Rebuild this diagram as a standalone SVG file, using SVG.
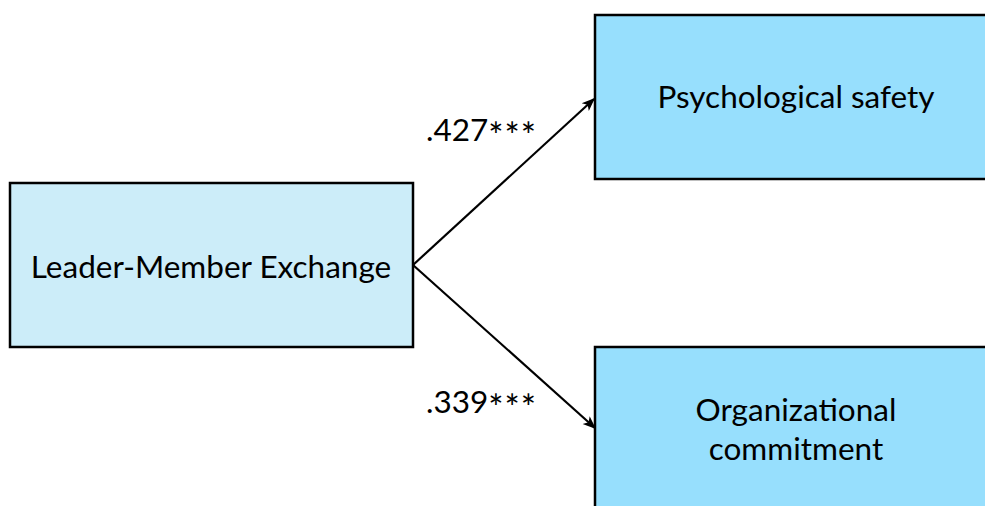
<svg xmlns="http://www.w3.org/2000/svg" width="985" height="506" viewBox="0 0 985 506">
<defs>
<style>
.box{stroke:#000;stroke-width:2.5}
.t{font-family:Lato,"Open Sans","Liberation Sans",sans-serif;font-size:31.5px;fill:#000;text-anchor:middle}
.lbl{font-family:Lato,"Open Sans","Liberation Sans",sans-serif;font-size:31.5px;fill:#000}
.st{font-size:36px;letter-spacing:1px}
.edge{stroke:#000;stroke-width:2.2;fill:none}
</style>
<marker id="ah" viewBox="0 0 10 10" refX="9" refY="5" markerWidth="6" markerHeight="6" orient="auto" markerUnits="strokeWidth">
<path d="M0,1 L10,5 L0,9 L2.5,5 Z" fill="#000"/>
</marker>
</defs>
<rect width="985" height="506" fill="#fff"/>
<g id="connectors">
<line class="edge" x1="413" y1="265" x2="594" y2="99" marker-end="url(#ah)"/>
<line class="edge" x1="413" y1="265" x2="595" y2="428" marker-end="url(#ah)"/>
<text class="lbl" x="426" y="141">.427<tspan class="st" dy="8">***</tspan></text>
<text class="lbl" x="426" y="413">.339<tspan class="st" dy="8">***</tspan></text>
</g>
<g id="lmx">
<rect class="box" x="10" y="183" width="403" height="164" fill="#CCEDF9"/>
<text class="t" x="211" y="278">Leader-Member Exchange</text>
</g>
<g id="psych">
<rect class="box" x="595" y="15" width="400" height="164" fill="#97DFFD"/>
<text class="t" x="796" y="108">Psychological safety</text>
</g>
<g id="org">
<rect class="box" x="595" y="347" width="400" height="170" fill="#97DFFD"/>
<text class="t" x="796" y="421">Organizational</text>
<text class="t" x="796" y="460">commitment</text>
</g>
</svg>
